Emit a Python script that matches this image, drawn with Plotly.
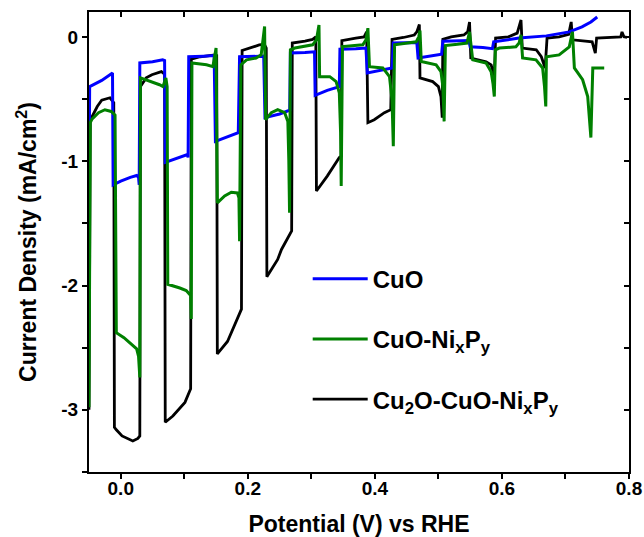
import plotly.graph_objects as go

# ---------------- data ----------------
cuo_x = [-0.050, -0.049, -0.030, -0.013, -0.012, 0.000, 0.015, 0.025, 0.028, 0.029,
         0.030, 0.050, 0.066, 0.069,
         0.070, 0.090, 0.100, 0.105, 0.106,
         0.107, 0.130, 0.147,
         0.149, 0.170, 0.185,
         0.187, 0.210, 0.225,
         0.227, 0.250, 0.266,
         0.267, 0.290, 0.305,
         0.306, 0.325, 0.344,
         0.345, 0.370, 0.386,
         0.388, 0.410, 0.427,
         0.429, 0.450, 0.466,
         0.468, 0.490, 0.505,
         0.507, 0.530, 0.548,
         0.550, 0.570, 0.585,
         0.587, 0.627, 0.670, 0.706, 0.726, 0.740, 0.750]
cuo_y = [-1.39, -0.40, -0.35, -0.29, -1.19, -1.16, -1.13, -1.115, -1.13, -1.19,
         -0.21, -0.20, -0.185, -0.19,
         -1.01, -0.975, -0.955, -0.947, -0.97,
         -0.16, -0.155, -0.15,
         -0.84, -0.80, -0.77,
         -0.16, -0.157, -0.155,
         -0.65, -0.62, -0.59,
         -0.13, -0.125, -0.12,
         -0.47, -0.43, -0.40,
         -0.10, -0.095, -0.09,
         -0.29, -0.27, -0.25,
         -0.05, -0.047, -0.045,
         -0.17, -0.155, -0.14,
         -0.035, -0.032, -0.03,
         -0.08, -0.085, -0.095,
         -0.04, -0.01, 0.008, 0.04, 0.08, 0.12, 0.16]

nipy_x = [-0.050, -0.048, -0.045, -0.035, -0.025, -0.015, -0.009,
          -0.007, 0.005, 0.017, 0.025, 0.028, 0.030,
          0.031, 0.048, 0.061, 0.0665, 0.071, 0.073,
          0.074, 0.093, 0.103, 0.110, 0.111,
          0.112, 0.135, 0.145, 0.150,
          0.152, 0.1635, 0.174, 0.1835, 0.186, 0.187,
          0.189, 0.198, 0.213, 0.221, 0.2264,
          0.228, 0.237, 0.247, 0.258, 0.263, 0.2645, 0.2657,
          0.267, 0.274, 0.302, 0.308, 0.312,
          0.313, 0.329, 0.339, 0.344, 0.346, 0.347,
          0.349, 0.381, 0.386, 0.389,
          0.3915, 0.4125, 0.423, 0.427, 0.429,
          0.431, 0.450, 0.465, 0.469, 0.471,
          0.473, 0.4964, 0.504, 0.507, 0.509,
          0.511, 0.530, 0.545, 0.549,
          0.554, 0.575, 0.583, 0.586, 0.588,
          0.5896, 0.596, 0.622, 0.627, 0.630,
          0.6325, 0.6536, 0.664, 0.667, 0.669,
          0.670, 0.690, 0.706, 0.711,
          0.714, 0.727, 0.735, 0.740,
          0.743, 0.761]
nipy_y = [-2.98, -0.69, -0.66, -0.61, -0.586, -0.60, -0.63,
          -2.38, -2.42, -2.47, -2.51, -2.57, -2.74,
          -0.33, -0.36, -0.385, -0.40, -0.33, -0.40,
          -1.99, -2.02, -2.04, -2.08, -2.27,
          -0.21, -0.225, -0.24, -0.09,
          -1.335, -1.28, -1.25, -1.255, -1.295, -1.643,
          -0.225, -0.185, -0.17, -0.145, 0.083,
          -0.666, -0.61, -0.586, -0.61, -0.68, -0.99, -1.415,
          -0.104, -0.09, -0.064, -0.024, 0.096,
          -0.32, -0.32, -0.36, -0.45, -0.77, -1.20,
          -0.078, -0.064, -0.024, 0.07,
          -0.24, -0.25, -0.32, -0.51, -0.88,
          -0.064, -0.05, -0.04, 0.0, 0.05,
          -0.198, -0.225, -0.28, -0.40, -0.68,
          -0.07, -0.06, -0.05, 0.04,
          -0.185, -0.21, -0.28, -0.38, -0.48,
          -0.104, -0.09, -0.08, -0.05, 0.016,
          -0.17, -0.185, -0.25, -0.40, -0.56,
          -0.16, -0.145, -0.08, 0.04,
          -0.25, -0.345, -0.48, -0.81,
          -0.25, -0.25]

cu2o_x = [-0.050, -0.048, -0.045, -0.037, -0.030, -0.017, -0.011,
          -0.010, -0.007, 0.002, 0.019, 0.027, 0.030,
          0.031, 0.040, 0.049, 0.064, 0.069,
          0.070, 0.082, 0.101, 0.110,
          0.111, 0.125, 0.148, 0.151,
          0.152, 0.168, 0.190,
          0.191, 0.218, 0.226, 0.229,
          0.230, 0.247, 0.253, 0.269,
          0.270, 0.290, 0.302, 0.307,
          0.308, 0.325, 0.344, 0.347,
          0.348, 0.370, 0.383, 0.387,
          0.389, 0.399, 0.415, 0.425,
          0.427, 0.445, 0.462, 0.466, 0.470,
          0.471, 0.491, 0.500, 0.504, 0.506,
          0.507, 0.520, 0.540, 0.546, 0.549,
          0.551, 0.575, 0.583, 0.588,
          0.590, 0.610, 0.624, 0.630,
          0.632, 0.654, 0.662, 0.668,
          0.671, 0.690, 0.705, 0.709,
          0.711, 0.742, 0.747,
          0.749, 0.787, 0.789, 0.792, 0.797]
cu2o_y = [-3.00, -0.66, -0.64, -0.56, -0.51, -0.49, -0.53,
          -3.14, -3.16, -3.21, -3.25, -3.23, -3.21,
          -0.40, -0.33, -0.305, -0.28, -0.30,
          -3.10, -3.05, -2.94, -2.83,
          -0.18, -0.16, -0.145, -0.15,
          -2.55, -2.45, -2.19,
          -0.11, -0.065, -0.06, -0.09,
          -1.93, -1.79, -1.71, -1.56,
          -0.05, -0.035, -0.02, 0.0,
          -1.24, -1.12, -0.97, -0.96,
          -0.03, -0.01, 0.0, 0.04,
          -0.69, -0.666, -0.61, -0.586,
          -0.02, -0.005, 0.015, 0.04, 0.10,
          -0.33, -0.36, -0.40, -0.48, -0.65,
          -0.02, 0.0, 0.015, 0.04, 0.12,
          -0.17, -0.20, -0.225, -0.32,
          -0.01, 0.0, 0.03, 0.136,
          -0.09, -0.104, -0.16, -0.25,
          -0.01, 0.0, 0.02, 0.12,
          -0.024, -0.04, -0.13,
          -0.01, 0.0, 0.04, 0.0, -0.005]

x_tick_vals = [0.0, 0.2, 0.4, 0.6, 0.8]
x_tick_text = ["0.0", "0.2", "0.4", "0.6", "0.8"]
x_minor_vals = [0.1, 0.3, 0.5, 0.7]
x_all_vals = [0.0, 0.1, 0.2, 0.3, 0.4, 0.5, 0.6, 0.7, 0.8]
y_tick_vals = [0, -1, -2, -3]
y_tick_text = ["0", "-1", "-2", "-3"]
y_minor_vals = [-0.5, -1.5, -2.5, -3.5]
y_all_vals = [0, -0.5, -1, -1.5, -2, -2.5, -3, -3.5]

FONT = "Liberation Sans"

fig = go.Figure()
fig.add_trace(go.Scatter(x=cu2o_x, y=cu2o_y, mode="lines",
                         name="Cu<sub>2</sub>O-CuO-Ni<sub>x</sub>P<sub>y</sub>",
                         line=dict(color="#000000", width=2.8),
                         legendrank=3, legendgroup="c"))
fig.add_trace(go.Scatter(x=cuo_x, y=cuo_y, mode="lines", name="CuO",
                         line=dict(color="#0000FF", width=3),
                         legendrank=1, legendgroup="a"))
fig.add_trace(go.Scatter(x=nipy_x, y=nipy_y, mode="lines",
                         name="CuO-Ni<sub>x</sub>P<sub>y</sub>",
                         line=dict(color="#008000", width=3),
                         legendrank=2, legendgroup="b"))
# empty trace to anchor the mirrored (inside-tick) axes
fig.add_trace(go.Scatter(x=[], y=[], xaxis="x2", yaxis="y2", showlegend=False, hoverinfo="skip"))

tickfont = dict(family=FONT, size=19, color="black", weight="bold")

fig.update_layout(
    width=644, height=537,
    margin=dict(l=89, r=15, t=12, b=65),
    paper_bgcolor="white", plot_bgcolor="white",
    showlegend=True,
    legend=dict(x=0.405, y=0.468, xanchor="left", yanchor="top",
                font=dict(family=FONT, size=24, color="black", weight="bold"),
                tracegroupgap=26, itemwidth=55, bgcolor="rgba(0,0,0,0)",
                traceorder="grouped"),
    xaxis=dict(range=[-0.05, 0.8], showgrid=False, zeroline=False, automargin=False,
               showline=True, linecolor="black", linewidth=2, mirror=True,
               tickmode="array", tickvals=x_tick_vals, ticktext=x_tick_text,
               ticks="outside", ticklen=5, tickwidth=1.5, tickcolor="black",
               ticklabelstandoff=-7,
               minor=dict(tickmode="array", tickvals=x_minor_vals, ticks="outside",
                          ticklen=5, tickwidth=1.5, tickcolor="black", showgrid=False),
               tickfont=tickfont,
               title=dict(text="Potential (V) vs RHE", standoff=21,
                          font=dict(family=FONT, size=23, color="black", weight="bold"))),
    yaxis=dict(range=[-3.5, 0.2], showgrid=False, zeroline=False, automargin=False,
               showline=True, linecolor="black", linewidth=2, mirror=True,
               tickmode="array", tickvals=y_tick_vals, ticktext=y_tick_text,
               ticks="outside", ticklen=5, tickwidth=1.5, tickcolor="black",
               minor=dict(tickmode="array", tickvals=y_minor_vals, ticks="outside",
                          ticklen=5, tickwidth=1.5, tickcolor="black", showgrid=False),
               tickfont=tickfont,
               title=dict(text="Current Density (mA/cm<sup>2</sup>)", standoff=18,
                          font=dict(family=FONT, size=23, color="black", weight="bold"))),
    xaxis2=dict(overlaying="x", matches="x", side="top", anchor="y", range=[-0.05, 0.8],
                showgrid=False, zeroline=False, showline=False, automargin=False,
                tickmode="array", tickvals=x_all_vals, showticklabels=False,
                ticks="inside", ticklen=5, tickwidth=1.5, tickcolor="black"),
    yaxis2=dict(overlaying="y", matches="y", side="right", anchor="x", range=[-3.5, 0.2],
                showgrid=False, zeroline=False, showline=False, automargin=False,
                tickmode="array", tickvals=y_all_vals, showticklabels=False,
                ticks="inside", ticklen=5, tickwidth=1.5, tickcolor="black"),
)

fig.write_html("out.html")
